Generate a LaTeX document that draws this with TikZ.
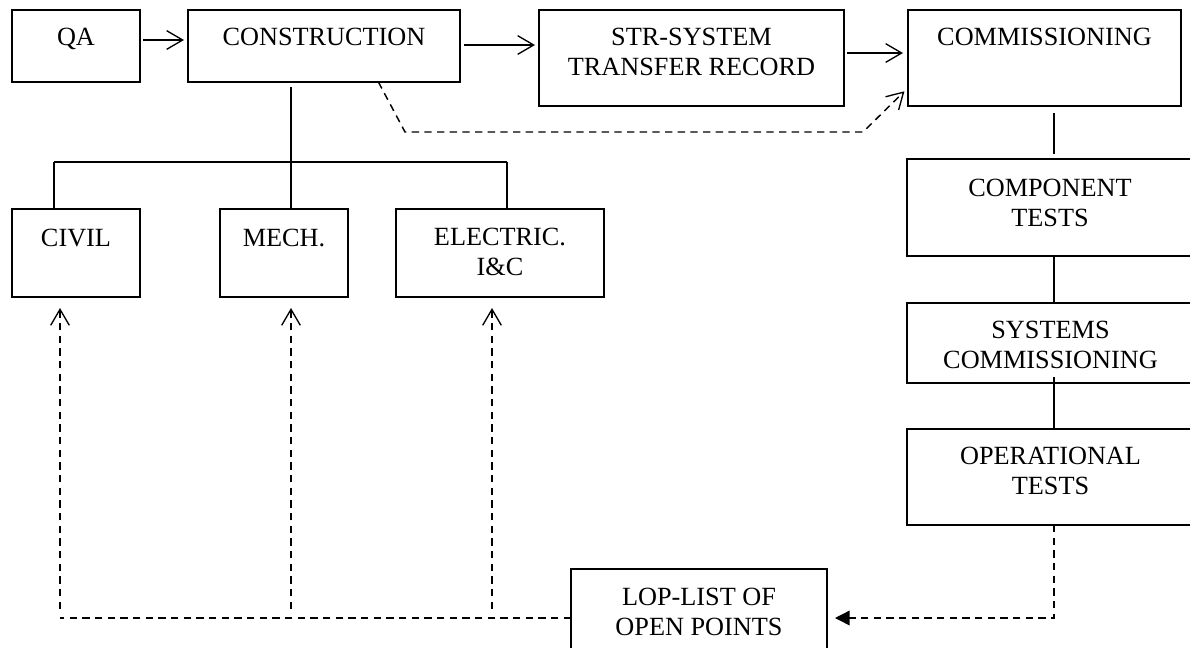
\documentclass[tikz,border=0pt]{standalone}
\usepackage{fontspec}
\setmainfont{Liberation Serif}
\usetikzlibrary{arrows.meta,calc}
\tikzset{
  box/.style={draw, line width=1.1pt, inner sep=0pt, outer sep=0pt},
  txt/.style={font=\fontsize{19.7pt}{22.5pt}\selectfont, align=center, inner sep=0pt, anchor=base},
  conn/.style={line width=1.1pt},
  openarrow/.style={-{Straight Barb[length=12pt,width=14pt,line width=1pt]}},
  dashline/.style={line width=1.1pt, dash pattern=on 5.5pt off 4pt},
  fillarrow/.style={-{Triangle[length=11pt,width=11pt]}}
}
\begin{document}
\begin{tikzpicture}[x=0.75pt,y=-0.75pt]
\useasboundingbox (0,0) rectangle (1190,647);
\clip (0,0) rectangle (1190,647);
\fill[white] (0,0) rectangle (1190,647);
% boxes
\node[box, minimum width=96pt, minimum height=54pt] (qa) at (76,46) {};
\node[box, minimum width=204pt, minimum height=54pt] (cons) at (324,46) {};
\node[box, minimum width=228.75pt, minimum height=72pt] (str) at (691.5,58) {};
\node[box, minimum width=204.75pt, minimum height=72pt] (comm) at (1044.5,58) {};
\node[box, minimum width=219.75pt, minimum height=72.75pt] (comp) at (1053.5,207.5) {};
\node[box, minimum width=219.75pt, minimum height=60pt] (sys) at (1053.5,343) {};
\node[box, minimum width=219.75pt, minimum height=72pt] (oper) at (1053.5,477) {};
\node[box, minimum width=96pt, minimum height=66pt] (civil) at (76,253) {};
\node[box, minimum width=96pt, minimum height=66pt] (mech) at (284,253) {};
\node[box, minimum width=156pt, minimum height=66pt] (elec) at (500,253) {};
\node[box, minimum width=192pt, minimum height=73.5pt] (lop) at (699,618) {};
% texts (anchor = baseline of last line)
\node[txt] (qa-t) at (76,45) {QA};
\node[txt] (cons-t) at (324,45) {CONSTRUCTION};
\node[txt] (str-t) at (691.5,75) {STR-SYSTEM\\TRANSFER RECORD};
\node[txt] (comm-t) at (1044.5,45) {COMMISSIONING};
\node[txt] (comp-t) at (1050,226) {COMPONENT\\TESTS};
\node[txt] (sys-t) at (1050.5,368) {SYSTEMS\\COMMISSIONING};
\node[txt] (oper-t) at (1050.5,494) {OPERATIONAL\\TESTS};
\node[txt] (civil-t) at (76,246) {CIVIL};
\node[txt] (mech-t) at (284,246) {MECH.};
\node[txt] (elec-t) at (500,275) {ELECTRIC.\\I\&C};
\node[txt] (lop-t) at (699,635) {LOP-LIST OF\\OPEN POINTS};
% helper coordinates
\coordinate (y40) at (0,40);
\coordinate (y45) at (0,45);
\coordinate (y53) at (0,53);
\coordinate (jL) at (54,162);
\coordinate (jM) at (291,162);
\coordinate (jR) at (507,162);
\coordinate (d1) at (405,132);
\coordinate (d2) at (863,132);
\coordinate (vC) at (60,609);
\coordinate (vM) at (291,609);
\coordinate (vE) at (492,609);
\coordinate (hL) at (60,618);
\coordinate (xr) at (1054,0);
% top arrows
\draw[conn, openarrow, shorten <=2.25pt, shorten >=3pt] (qa.east |- y40) -- (cons.west |- y40);
\draw[conn, openarrow, shorten <=3pt, shorten >=3pt] (cons.east |- y45) -- (str.west |- y45);
\draw[conn, openarrow, shorten <=2.25pt, shorten >=3.75pt] (str.east |- y53) -- (comm.west |- y53);
% dashed from construction to commissioning
\draw[dashline, openarrow, shorten >=3.75pt] ($(cons.south west)!0.70!(cons.south east)$) -- (d1) -- (d2) -- ($(comm.north west)!0.81!(comm.south west)$);
% construction tree
\draw[conn, shorten <=3.75pt] (cons.south -| jM) -- (mech.north -| jM);
\draw[conn] (jL) -- (jR);
\draw[conn] (jL) -- (civil.north -| jL);
\draw[conn] (jR) -- (elec.north -| jR);
% right column
\draw[conn, shorten <=5.25pt, shorten >=3.75pt] (comm.south -| xr) -- (comp.north -| xr);
\draw[conn] (comp.south -| xr) -- (sys.north -| xr);
\draw[conn] ($(sys.south -| xr)+(0,-6)$) -- (oper.north -| xr);
% operational tests to LOP
\draw[dashline, fillarrow, shorten >=6pt] (oper.south -| xr) |- (lop.east);
% LOP to civil / mech / electric
\draw[dashline] (lop.west) -- (hL);
\draw[dashline, openarrow, shorten >=8.25pt] (vC) -- (civil.south -| vC);
\draw[dashline, openarrow, shorten >=8.25pt] (vM) -- (mech.south -| vM);
\draw[dashline, openarrow, shorten >=8.25pt] (vE) -- (elec.south -| vE);
\end{tikzpicture}
\end{document}
